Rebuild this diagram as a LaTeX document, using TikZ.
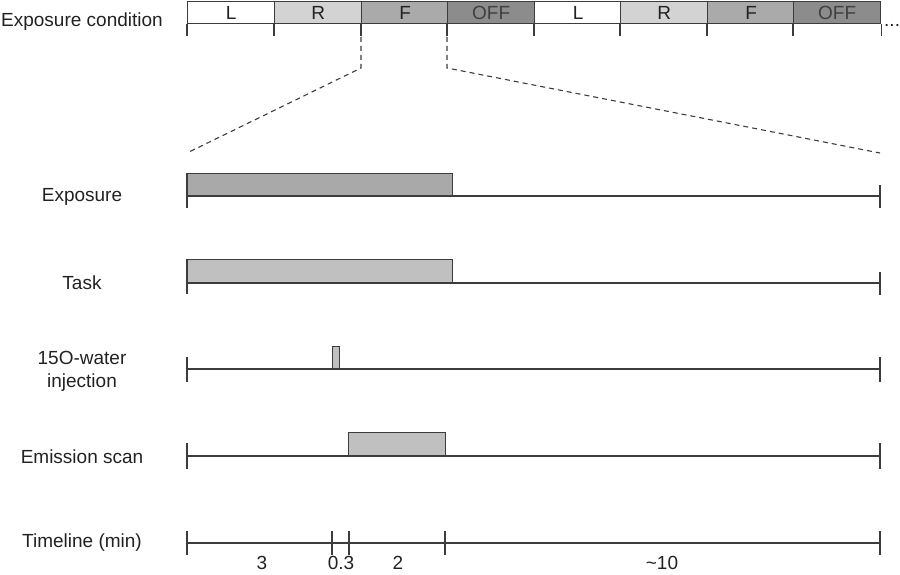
\documentclass[tikz,border=0pt]{standalone}
\usepackage{fontspec}
\setmainfont{Liberation Sans}
\definecolor{lc}{HTML}{3C3C3C}
\definecolor{tc}{HTML}{222222}
\definecolor{cR}{HTML}{D3D3D3}
\definecolor{cF}{HTML}{AAAAAA}
\definecolor{cOFF}{HTML}{8C8C8C}
\definecolor{cExp}{HTML}{A9A9A9}
\definecolor{cTask}{HTML}{C0C0C0}
\begin{document}
\begin{tikzpicture}[x=1pt,y=-1pt,
  every node/.style={text=tc, font=\fontsize{19}{23}\selectfont},
  ln/.style={draw=lc, line width=1.3pt},
  seg/.style={ln, minimum width=87pt, minimum height=22pt, inner sep=0pt, anchor=north west},
  barbox/.style={ln, inner sep=0pt, anchor=south west},
  lbl/.style={align=center},
  dsh/.style={draw=lc, line width=1.1pt, dash pattern=on 5pt off 4pt}]
\useasboundingbox (0,0) rectangle (900,575);

% top exposure condition bar
\node[lbl] (ec) at (82,22) {Exposure condition};
\node[seg, fill=white] (s1) at (187,1) {L};
\node[seg, fill=cR]    (s2) at (274,1) {R};
\node[seg, fill=cF]    (s3) at (361,1) {F};
\node[seg, fill=cOFF, text=black!75] (s4) at (447,1) {OFF};
\node[seg, fill=white] (s5) at (534,1) {L};
\node[seg, fill=cR]    (s6) at (620,1) {R};
\node[seg, fill=cF]    (s7) at (707,1) {F};
\node[seg, fill=cOFF, text=black!75] (s8) at (793,1) {OFF};
\foreach \s in {s1,s2,s3,s4,s5,s6,s7,s8}
  \draw[ln] (\s.south west) -- ++(0,12);
\draw[ln] (s8.south east) -- ++(0,12);
\node[anchor=west, inner sep=0pt] (dots) at (884,25) {...};

% zoom dashed lines
\coordinate (zl1) at (361,37);
\coordinate (zl2) at (361,68);
\coordinate (zl3) at (187,153);
\coordinate (zr1) at (447,37);
\coordinate (zr2) at (447,68);
\coordinate (zr3) at (880,153);
\draw[dsh] (zl1) -- (zl2) -- (zl3);
\draw[dsh] (zr1) -- (zr2) -- (zr3);

% Exposure row
\node[lbl] (lexp) at (82,197) {Exposure};
\node[barbox, fill=cExp, minimum width=265pt, minimum height=22pt] (expbar) at (187,196) {};
\coordinate (expL) at (187,196);
\coordinate (expR) at (880,196);
\draw[ln] (expL) -- (expR);
\draw[ln] (expbar.north west) -- ++(0,35);
\draw[ln] (expR) ++(0,-11) -- ++(0,23);

% Task row
\node[lbl] (ltask) at (82,283) {Task};
\node[barbox, fill=cTask, minimum width=265pt, minimum height=23pt] (taskbar) at (187,283) {};
\coordinate (taskL) at (187,283);
\coordinate (taskR) at (880,283);
\draw[ln] (taskL) -- (taskR);
\draw[ln] (taskbar.north west) -- ++(0,35);
\draw[ln] (taskR) ++(0,-11) -- ++(0,23);

% Injection row
\node[lbl] (linj) at (82,371) {15O-water\\injection};
\node[barbox, fill=cTask, minimum width=7pt, minimum height=22pt] (injbar) at (332,369) {};
\coordinate (injL) at (187,369);
\coordinate (injR) at (880,369);
\draw[ln] (injL) -- (injR);
\draw[ln] (injL) ++(0,-12) -- ++(0,25);
\draw[ln] (injR) ++(0,-12) -- ++(0,25);

% Emission row
\node[lbl] (lem) at (82,457) {Emission scan};
\node[barbox, fill=cTask, minimum width=97pt, minimum height=23pt] (embar) at (348,456) {};
\coordinate (emL) at (187,456);
\coordinate (emR) at (880,456);
\draw[ln] (emL) -- (emR);
\draw[ln] (emL) ++(0,-13) -- ++(0,26);
\draw[ln] (emR) ++(0,-13) -- ++(0,26);

% Timeline
\node[lbl] (ltl) at (82,543) {Timeline (min)};
\coordinate (tl0) at (187,543);
\coordinate (tl1) at (332,543);
\coordinate (tl2) at (349,543);
\coordinate (tl3) at (445,543);
\coordinate (tl4) at (880,543);
\draw[ln] (tl0) -- (tl4);
\foreach \t in {tl0,tl1,tl2,tl3,tl4}
  \draw[ln] (\t) ++(0,-12) -- ++(0,24);
\node (n3) at (262,563) {3};
\node (n03) at (341,563) {0.3};
\node (n2) at (398,563) {2};
\node (n10) at (662,563) {\textasciitilde10};
\end{tikzpicture}
\end{document}
